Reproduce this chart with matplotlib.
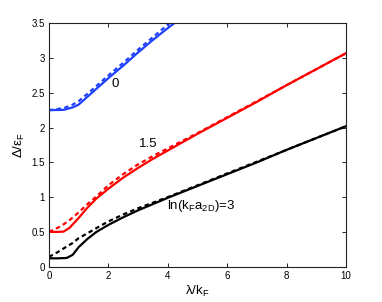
import matplotlib
matplotlib.use("Agg")
import matplotlib.pyplot as plt
import numpy as np

plt.rcParams['font.family'] = ['Liberation Sans', 'DejaVu Sans']
plt.rcParams['mathtext.fontset'] = 'custom'
plt.rcParams['mathtext.rm'] = 'Liberation Sans'
plt.rcParams['mathtext.it'] = 'Liberation Sans'
plt.rcParams['mathtext.default'] = 'regular'

# lambda / k_F sample points and Delta / eps_F values
lam_blue = [0, 0.5, 0.8, 1.0, 1.5, 2.0, 2.5, 3.0, 3.5, 4.0, 4.4]
blue_solid = [2.25, 2.255, 2.29, 2.33, 2.52, 2.71, 2.89, 3.08, 3.26, 3.43, 3.56]
blue_dash = [2.25, 2.28, 2.33, 2.38, 2.56, 2.75, 2.93, 3.12, 3.30, 3.48, 3.62]

lam_red = [0, 0.3, 0.5, 0.7, 1.0, 1.3, 1.6, 2.0, 2.5, 3.0, 3.5, 4.0, 5, 6, 7, 8, 9, 10]
red_solid = [0.5, 0.5, 0.505, 0.56, 0.70, 0.85, 0.98, 1.12, 1.28, 1.42, 1.55, 1.67,
             1.91, 2.14, 2.37, 2.61, 2.84, 3.07]
red_dash = [0.5, 0.56, 0.61, 0.67, 0.78, 0.90, 1.01, 1.17, 1.33, 1.47, 1.59, 1.70,
            1.92, 2.15, 2.38, 2.61, 2.84, 3.07]

lam_black = [0, 0.3, 0.6, 0.8, 1.0, 1.3, 1.6, 2.0, 2.5, 3.0, 3.5, 4.0, 5, 6, 7, 8, 9, 10]
black_solid = [0.12, 0.12, 0.125, 0.17, 0.28, 0.40, 0.50, 0.60, 0.71, 0.81, 0.90, 0.99,
               1.16, 1.33, 1.50, 1.68, 1.85, 2.02]
black_dash = [0.14, 0.21, 0.29, 0.34, 0.41, 0.48, 0.555, 0.65, 0.75, 0.84, 0.92, 1.00,
              1.17, 1.34, 1.51, 1.68, 1.85, 2.02]

xticks = [0, 2, 4, 6, 8, 10]
yticks = [0, 0.5, 1, 1.5, 2, 2.5, 3, 3.5]
ytick_labels = ['0', '0.5', '1', '1.5', '2', '2.5', '3', '3.5']

fig = plt.figure(figsize=(3.82, 3.02), dpi=100)
ax = fig.add_axes([0.128, 0.117, 0.778, 0.806])

lw = 1.6
dash = (0, (2.0, 1.5))
ax.plot(lam_blue, blue_solid, color='#2040ff', lw=lw)
ax.plot(lam_blue, blue_dash, color='#2040ff', lw=lw, linestyle=dash)
ax.plot(lam_red, red_solid, color='#ff0000', lw=lw)
ax.plot(lam_red, red_dash, color='#ff0000', lw=lw, linestyle=dash)
ax.plot(lam_black, black_solid, color='black', lw=lw)
ax.plot(lam_black, black_dash, color='black', lw=lw, linestyle=dash)

ax.set_xlim(0, 10)
ax.set_ylim(0, 3.5)
ax.set_xticks(xticks)
ax.set_xticklabels([str(t) for t in xticks])
ax.set_yticks(yticks)
ax.set_yticklabels(ytick_labels)
ax.tick_params(direction='in', length=3, width=0.6, top=True, right=True,
               labelsize=7, pad=3)
for s in ax.spines.values():
    s.set_linewidth(0.8)
    s.set_color('#222222')

ax.text(2.22, 2.62, '0', fontsize=9.5, ha='center', va='center')
ax.text(3.34, 1.76, '1.5', fontsize=9.5, ha='center', va='center')
ax.text(3.96, 0.83, r'ln(k$_F$a$_{2D}$)=3', fontsize=9.5, ha='left', va='baseline')

ax.set_xlabel(r'λ/k$_F$', fontsize=9.5, labelpad=2)
ax.set_ylabel(r'Δ/ε$_F$', fontsize=9.5, labelpad=3)

fig.savefig('out.png', dpi=100)
